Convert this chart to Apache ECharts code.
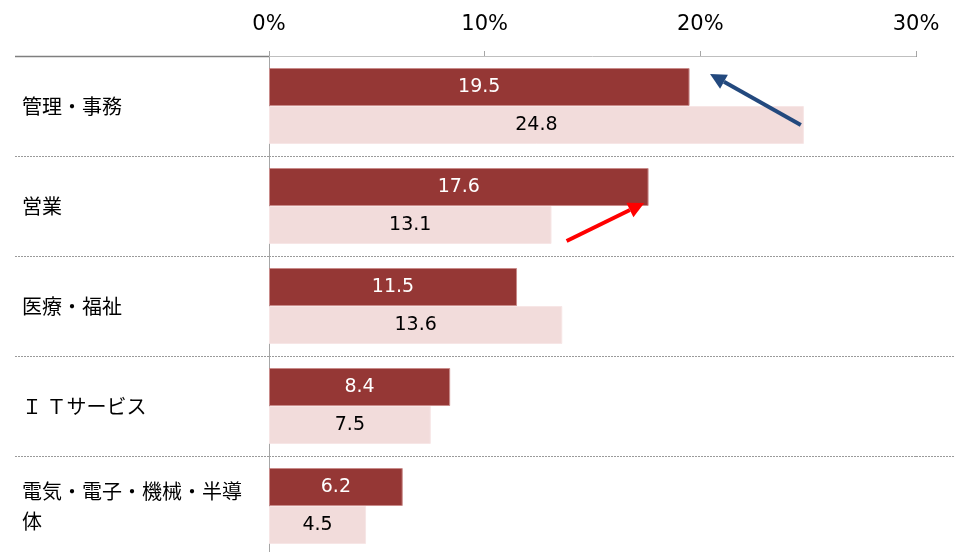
<!DOCTYPE html>
<html><head><meta charset="utf-8">
<script src="https://cdn.jsdelivr.net/npm/echarts@6/dist/echarts.min.js"></script>
<style>html,body{margin:0;padding:0;background:#fff}#c{width:955px;height:552px}</style>
</head><body><div id="c"></div>
<script>
const categories = ['管理・事務', '営業', '医療・福祉', 'Ｉ Ｔサービス', '電気・電子・機械・半導体'];
const seriesA = [19.5, 17.6, 11.5, 8.4, 6.2];
const seriesB = [24.8, 13.1, 13.6, 7.5, 4.5];
const valueTicks = [0, 10, 20, 30];

const GRID = {left: 269, top: 56, width: 647, height: 500, outerBoundsMode: 'none', containLabel: false};
const chart = echarts.init(document.getElementById('c'));
const valFont = 'DejaVu Sans, Verdana, sans-serif';
const jpFont = '"Noto Sans CJK JP", sans-serif';

chart.setOption({
  animation: false,
  grid: GRID,
  xAxis: {
    type: 'value', position: 'top', min: valueTicks[0], max: valueTicks[valueTicks.length-1], interval: 10,
    axisLine: {show: true, lineStyle: {color: '#bfbfbf', width: 1}},
    axisTick: {show: true, length: 5, lineStyle: {color: '#a6a6a6'}},
    splitLine: {show: false},
    axisLabel: {formatter: v => v + '%', fontSize: 21, color: '#000', fontFamily: valFont, margin: 21}
  },
  yAxis: [{
    type: 'category', data: categories, inverse: true,
    axisLine: {show: true, lineStyle: {color: '#a6a6a6', width: 1}},
    axisTick: {show: true, length: 254, lineStyle: {color: '#9a9a9a', type: [2, 1], width: 1}},
    splitLine: {show: true, lineStyle: {color: '#9a9a9a', type: [2, 1], width: 1}},
    axisLabel: {align: 'left', margin: 247, fontSize: 20, color: '#000', fontFamily: jpFont,
      width: 228, overflow: 'break', lineHeight: 30}
  }, {
    type: 'category', data: categories, inverse: true, position: 'right',
    axisLine: {show: false},
    axisTick: {show: true, length: 39, lineStyle: {color: '#9a9a9a', type: [2, 1], width: 1}},
    axisLabel: {show: false}, splitLine: {show: false}
  }],
  series: [{
    type: 'bar', data: seriesA, barWidth: 38, barGap: '0%',
    itemStyle: {color: '#953735', borderColor: '#c98b8a', borderWidth: 1},
    label: {show: true, position: 'inside', color: '#fff', fontSize: 19, fontFamily: valFont}
  }, {
    type: 'bar', data: seriesB, barWidth: 38,
    itemStyle: {color: '#f2dcdb', borderColor: '#f7e6e6', borderWidth: 1},
    label: {show: true, position: 'inside', color: '#000', fontSize: 19, fontFamily: valFont}
  }]
});

// annotation arrows: [value, category index, pixel offset from category centre]
const arrows = [
  {color: '#23497e', from: [24.66, 0, 19], to: [20.45, 0, -32]},
  {color: '#ff0000', from: [13.8, 1, 35], to: [17.4, 1, -3]}
];
function pt(p) {
  const xy = chart.convertToPixel({gridIndex: 0}, [p[0], categories[p[1]]]);
  return [xy[0], xy[1] + p[2]];
}
const graphics = [];
const tl = chart.convertToPixel({gridIndex: 0}, [0, categories[0]]);
const tr = chart.convertToPixel({gridIndex: 0}, [valueTicks[valueTicks.length-1], categories[0]]);
graphics.push({type: 'line', shape: {x1: 15, y1: GRID.top + 0.5, x2: tl[0], y2: GRID.top + 0.5},
  style: {stroke: '#7f7f7f', lineWidth: 1.5}, z: 10});
graphics.push({type: 'line', shape: {x1: tr[0] + 1, y1: GRID.top + 0.5, x2: 955, y2: GRID.top + 0.5},
  style: {stroke: '#ffffff', lineWidth: 2}, z: 10});
arrows.forEach(a => {
  const s = pt(a.from), e = pt(a.to);
  const dx = e[0] - s[0], dy = e[1] - s[1], L = Math.hypot(dx, dy);
  const ux = dx / L, uy = dy / L, hl = 16, hw = 8;
  const bx = e[0] - ux * hl, by = e[1] - uy * hl;
  graphics.push({type: 'line', shape: {x1: s[0], y1: s[1], x2: bx, y2: by},
    style: {stroke: a.color, lineWidth: 4}, z: 10});
  graphics.push({type: 'polygon', shape: {points: [e, [bx - uy * hw, by + ux * hw], [bx + uy * hw, by - ux * hw]]},
    style: {fill: a.color}, z: 10});
});
chart.setOption({graphic: graphics});
</script></body></html>
